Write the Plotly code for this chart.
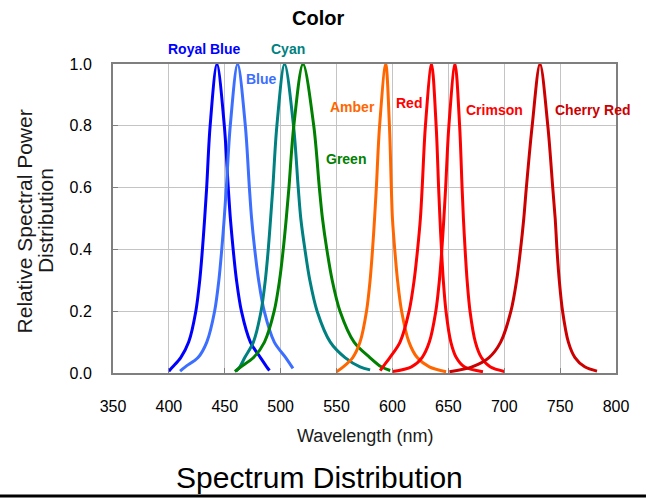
import plotly.graph_objects as go

# ---- data (wavelength nm, relative power) ----
royal_blue_x = [400, 403.5, 410.6, 417.7, 424.1, 427.6, 430.0, 432.0, 433.8, 436.9, 443, 449.6, 453.1, 455.0, 457.5, 460.5, 464.9, 472.9, 481.9, 487.5, 490]
royal_blue_y = [0.006, 0.02, 0.05, 0.1, 0.2, 0.3, 0.4, 0.5, 0.6, 0.8, 1.0, 0.8, 0.6, 0.5, 0.4, 0.3, 0.2, 0.1, 0.05, 0.02, 0.008]

blue_x = [410, 414.7, 426.1, 433.9, 440.9, 444.7, 447.3, 449.5, 451.4, 454.9, 461.5, 468.4, 472.0, 474.0, 476.8, 480.3, 485.3, 494.3, 504.5, 511]
blue_y = [0.006, 0.02, 0.05, 0.1, 0.2, 0.3, 0.4, 0.5, 0.6, 0.8, 1.0, 0.8, 0.6, 0.5, 0.4, 0.3, 0.2, 0.1, 0.05, 0.015]

cyan_x = [460, 463.5, 467.9, 475.6, 482.45, 486.25, 488.9, 491.0, 493.0, 496.6, 503.5, 511.5, 515.7, 518.0, 521.7, 526.1, 532.6, 544.4, 557.6, 571, 580]
cyan_y = [0.006, 0.02, 0.05, 0.1, 0.2, 0.3, 0.4, 0.5, 0.6, 0.8, 1.0, 0.8, 0.6, 0.5, 0.4, 0.3, 0.2, 0.1, 0.05, 0.02, 0.01]

green_x = [459, 464.5, 475.75, 485.5, 494.2, 499.0, 502.3, 505.0, 507.4, 511.75, 520, 529.6, 534.6, 537.4, 541.3, 546.1, 553.1, 565.7, 579.8, 590, 598]
green_y = [0.005, 0.02, 0.05, 0.1, 0.2, 0.3, 0.4, 0.5, 0.6, 0.8, 1.0, 0.8, 0.6, 0.5, 0.4, 0.3, 0.2, 0.1, 0.05, 0.02, 0.008]

amber_x = [550, 556, 564.5, 571.0, 576.8, 580.0, 582.2, 584.0, 585.6, 588.5, 594, 597.3, 599.0, 600.0, 602.05, 604.56, 608.2, 614.8, 622.2, 633, 648]
amber_y = [0.004, 0.02, 0.05, 0.1, 0.2, 0.3, 0.4, 0.5, 0.6, 0.8, 1.0, 0.8, 0.6, 0.5, 0.4, 0.3, 0.2, 0.1, 0.05, 0.02, 0.004]

red_x = [589, 592.5, 597.7, 606.8, 614.9, 619.4, 622.5, 625.0, 626.6, 629.5, 635, 639.1, 641.3, 642.5, 643.85, 645.5, 647.9, 652.25, 657.1, 664.25, 681]
red_y = [0.008, 0.025, 0.05, 0.1, 0.2, 0.3, 0.4, 0.5, 0.6, 0.8, 1.0, 0.8, 0.6, 0.5, 0.4, 0.3, 0.2, 0.1, 0.05, 0.02, 0.004]

crimson_x = [600, 617, 626.5, 633.0, 638.8, 642.0, 644.2, 646.0, 647.6, 650.5, 656, 660.1, 662.3, 663.5, 665.0, 666.8, 669.4, 674.2, 679.6, 687.4, 700]
crimson_y = [0.005, 0.02, 0.05, 0.1, 0.2, 0.3, 0.4, 0.5, 0.6, 0.8, 1.0, 0.8, 0.6, 0.5, 0.4, 0.3, 0.2, 0.1, 0.05, 0.02, 0.005]

cherry_red_x = [651, 671.2, 686.4, 696.8, 706.0, 711.1, 714.6, 717.5, 719.8, 725.0, 732, 739.0, 743.4, 745.6, 747.2, 749.25, 752.2, 757.4, 763.3, 772, 783]
cherry_red_y = [0.004, 0.02, 0.05, 0.1, 0.2, 0.3, 0.4, 0.5, 0.6, 0.8, 1.0, 0.8, 0.6, 0.5, 0.4, 0.3, 0.2, 0.1, 0.05, 0.02, 0.006]

series_names = ["Royal Blue", "Blue", "Cyan", "Green", "Amber", "Red", "Crimson", "Cherry Red"]
series_x = [royal_blue_x, blue_x, cyan_x, green_x, amber_x, red_x, crimson_x, cherry_red_x]
series_y = [royal_blue_y, blue_y, cyan_y, green_y, amber_y, red_y, crimson_y, cherry_red_y]
series_colors = ["#0000FF", "#3C6EFF", "#008080", "#008000", "#FF6600", "#FF0000", "#FF0000", "#CC0000"]

# label positions (x in nm, y in relative power)
label_x = [431.5, 482.5, 506.5, 558.5, 564, 615, 691.5, 779]
label_y = [1.049, 0.951, 1.049, 0.694, 0.861, 0.875, 0.850, 0.850]

x_ticks = [350, 400, 450, 500, 550, 600, 650, 700, 750, 800]
y_ticks = [0.0, 0.2, 0.4, 0.6, 0.8, 1.0]

FONT = "Liberation Sans, Arial, sans-serif"

fig = go.Figure()
for name, xs, ys, col in zip(series_names, series_x, series_y, series_colors):
    fig.add_trace(go.Scatter(
        x=xs, y=ys, mode="lines", name=name,
        line=dict(color=col, width=3, shape="spline", smoothing=0.9),
        showlegend=False, hoverinfo="skip",
    ))

annotations = []
for name, lx, ly, col in zip(series_names, label_x, label_y, series_colors):
    # y range is [0, 1], so paper y equals the data value
    annotations.append(dict(
        x=lx, y=ly, xref="x", yref="paper", text="<b>%s</b>" % name, showarrow=False,
        font=dict(family=FONT, size=14, color=col), xanchor="center", yanchor="middle",
    ))

# title
annotations.append(dict(x=0.4076, y=1.149, xref="paper", yref="paper", text="<b>Color</b>",
                        showarrow=False, font=dict(family=FONT, size=20, color="#000000"),
                        xanchor="center", yanchor="middle"))
# y axis title (two lines)
annotations.append(dict(x=-0.176, y=0.492, xref="paper", yref="paper", text="Relative Spectral Power",
                        showarrow=False, textangle=-90, font=dict(family=FONT, size=21, color="#1a1a1a"),
                        xanchor="center", yanchor="middle"))
annotations.append(dict(x=-0.133, y=0.492, xref="paper", yref="paper", text="Distribution",
                        showarrow=False, textangle=-90, font=dict(family=FONT, size=21, color="#1a1a1a"),
                        xanchor="center", yanchor="middle"))
# x axis title
annotations.append(dict(x=0.5, y=-0.204, xref="paper", yref="paper", text="Wavelength (nm)",
                        showarrow=False, font=dict(family=FONT, size=18, color="#1a1a1a"),
                        xanchor="center", yanchor="middle"))
# caption
annotations.append(dict(x=0.4096, y=-0.337, xref="paper", yref="paper", text="Spectrum Distribution",
                        showarrow=False, font=dict(family=FONT, size=30, color="#000000"),
                        xanchor="center", yanchor="middle"))

axis_common = dict(
    showgrid=True, gridcolor="#C4C4C4", gridwidth=1,
    showline=True, linecolor="#7F7F7F", linewidth=2, mirror=True,
    ticks="inside", ticklen=5, tickcolor="#7F7F7F", tickwidth=1,
    tickfont=dict(family=FONT, size=16, color="#000000"),
    zeroline=False, fixedrange=True,
)

fig.update_layout(
    width=646, height=499, autosize=False,
    margin=dict(l=113, r=30, t=64, b=126),
    paper_bgcolor="white", plot_bgcolor="white",
    xaxis=dict(range=[350, 800], tickvals=x_ticks, ticktext=[str(v) for v in x_ticks],
               ticklabelstandoff=18, **axis_common),
    yaxis=dict(range=[0, 1], tickvals=y_ticks, ticktext=["%.1f" % v for v in y_ticks],
               ticklabelstandoff=16, **axis_common),
    annotations=annotations,
    shapes=[dict(type="line", xref="paper", yref="paper", x0=-0.2247, x1=1.0596,
                 y0=-0.398, y1=-0.398, line=dict(color="black", width=3))],
)

fig.write_html("out.html", config={"displayModeBar": False},
               post_script="document.body.style.margin='0';document.body.style.overflow='hidden';")
